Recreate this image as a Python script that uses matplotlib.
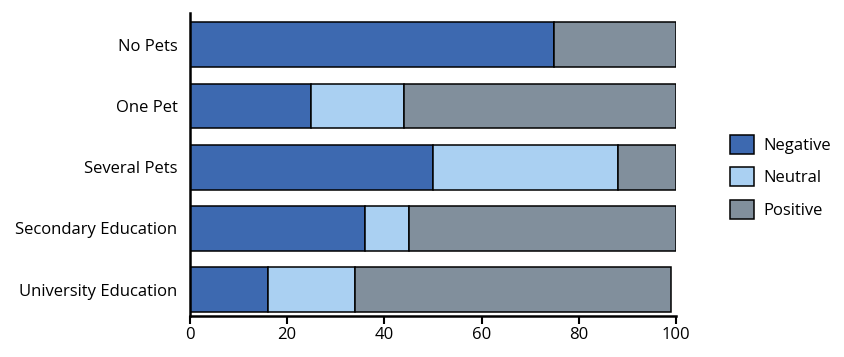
import numpy as np
import matplotlib.pyplot as plt

# datos
categorias = ["No Pets", "One Pet", "Several Pets", "Secondary Education", "University Education"]
negativo = [75, 25, 50, 36, 16]
neutral = [0, 19, 38, 9, 18]
positivo = [25, 56, 12, 55, 65]

series = ["Negative", "Neutral", "Positive"]
colores = ["#3d69b0", "#aad0f2", "#818f9c"]

plt.rcParams['font.family'] = ['Open Sans', 'DejaVu Sans']

fig = plt.figure(figsize=(8.44, 3.57), dpi=100)
ax = fig.add_axes([0.2251, 0.115, 0.5758, 0.849])

y = np.arange(len(categorias))[::-1]
izq = np.zeros(len(categorias))
for vals, nombre, c in zip([negativo, neutral, positivo], series, colores):
    ax.barh(y, vals, left=izq, height=0.73, color=c, edgecolor="black",
            linewidth=1.1, label=nombre)
    izq = izq + np.array(vals)

ax.set_xlim(0, 100)
ax.set_ylim(-0.43, 4.52)
ax.set_yticks(y)
ax.set_yticklabels(categorias, fontsize=12)
ax.set_xticks(np.arange(0, 101, 20))
ax.tick_params(axis="y", length=0, pad=9)
ax.tick_params(axis="x", length=6, width=1.5, labelsize=12, pad=2)
for s in ["top", "right"]:
    ax.spines[s].set_visible(False)
for s in ["left", "bottom"]:
    ax.spines[s].set_linewidth(1.8)

ax.legend(loc="center left", bbox_to_anchor=(1.081, 0.459), frameon=False,
          fontsize=12, handlelength=1.4, handleheight=1.4, labelspacing=0.8,
          handletextpad=0.6)

fig.savefig("out.png", dpi=100)
